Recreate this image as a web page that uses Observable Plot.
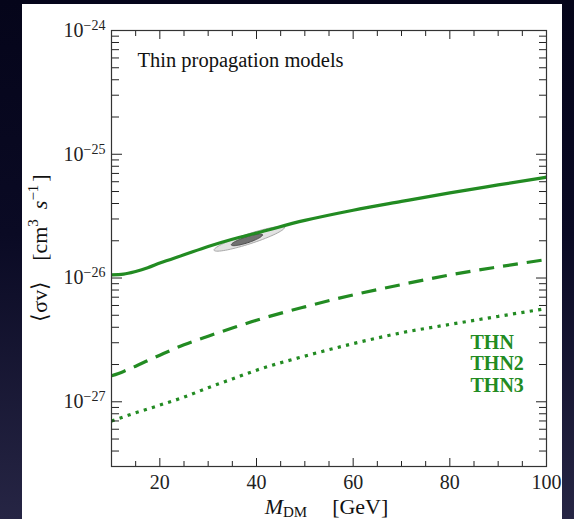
<!DOCTYPE html>
<html><head><meta charset="utf-8">
<script src="https://cdn.jsdelivr.net/npm/d3@7"></script>
<script src="https://cdn.jsdelivr.net/npm/@observablehq/plot@0.6"></script>
<style>
html,body{margin:0;padding:0;width:574px;height:519px;overflow:hidden;}
body{background:linear-gradient(to bottom,#05051a 0%,#0a0a24 45%,#262544 100%);position:relative;}
#panel{position:absolute;left:22px;top:4px;width:540px;height:515px;background:#fff;}
#chart{position:absolute;left:0;top:0;}
svg text{font-family:'Liberation Serif','Times New Roman',serif;}
</style></head><body><div id="panel"></div><div id="chart"></div>
<script>
// ---- data ----
const masses = [10,12.5,15,17.5,20,25,30,35,40,50,60,70,80,90,100];
const thn  = [1.06e-26,1.075e-26,1.13e-26,1.21e-26,1.32e-26,1.54e-26,1.80e-26,2.06e-26,2.31e-26,2.92e-26,3.53e-26,4.16e-26,4.88e-26,5.65e-26,6.53e-26];
const thn2 = [1.62e-27,1.76e-27,1.94e-27,2.15e-27,2.38e-27,2.89e-27,3.39e-27,3.94e-27,4.56e-27,5.85e-27,7.31e-27,8.85e-27,1.06e-26,1.23e-26,1.41e-26];
const thn3 = [7.0e-28,7.55e-28,8.15e-28,8.75e-28,9.4e-28,1.09e-27,1.30e-27,1.53e-27,1.80e-27,2.34e-27,2.95e-27,3.61e-27,4.22e-27,4.90e-27,5.67e-27];
const seriesNames = ["THN","THN2","THN3"];
const legendLabels = ["THN","THN2","THN3"];
const titleText = "Thin propagation models";
// best-fit region (ellipses): center mass, center log10(sigma v), major axis vector, minor axis vector
const ellipseNames = ["outer","inner"];
const ellipseCenterMass = [38.5, 38.0];
const ellipseCenterLog = [-25.683, -25.692];
const ellipseMajor = [[7.28, 0.0924],[3.2, 0.0406]];
const ellipseMinor = [[0.32, -0.0384],[0.19, -0.023]];
const xMajorTicks = [20,40,60,80,100];
const xMinorTicks = [15,25,30,35,45,50,55,65,70,75,85,90,95];
const yMajorTicks = [1e-24,1e-25,1e-26,1e-27];
const yMinorMultipliers = [2,3,4,5,6,7,8,9];
const yDomain = [3e-28, 1e-24];
const xDomain = [10, 100];

const green = "#228b22";
const tickColor = "#222";
const serif = "'Liberation Serif', 'Times New Roman', serif";

const yMinorTicks = [];
[-28,-27,-26,-25].forEach(e => yMinorMultipliers.forEach(m => {
  const v = m * Math.pow(10, e);
  if (v > yDomain[0]*0.999 && v < yDomain[1]) yMinorTicks.push(v);
}));

const rows = [];
[thn, thn2, thn3].forEach((arr, i) => arr.forEach((v, j) => rows.push({series: seriesNames[i], m: masses[j], sv: v})));

const ellipsePts = [];
ellipseNames.forEach((name, i) => {
  for (let k = 0; k <= 72; k++) {
    const t = 2*Math.PI*k/72;
    const mx = ellipseCenterMass[i] + ellipseMajor[i][0]*Math.cos(t) + ellipseMinor[i][0]*Math.sin(t);
    const ly = ellipseCenterLog[i] + ellipseMajor[i][1]*Math.cos(t) + ellipseMinor[i][1]*Math.sin(t);
    ellipsePts.push({name, m: mx, sv: Math.pow(10, ly)});
  }
});

const dashFor = {THN: null, THN2: "15,9", THN3: "3.2,5.3"};

const plot = Plot.plot({
  width: 574, height: 519,
  marginLeft: 111, marginRight: 28, marginTop: 30, marginBottom: 53,
  style: {background: "transparent", fontFamily: serif, fontSize: "20px", color: tickColor},
  x: {domain: xDomain, label: null},
  y: {type: "log", domain: yDomain, label: null},
  marks: [
    Plot.line(ellipsePts.filter(d => d.name === "outer"), {x: "m", y: "sv", fill: "#e2e2e2", stroke: "#a8a8a8", strokeWidth: 1, curve: "linear-closed"}),
    Plot.line(ellipsePts.filter(d => d.name === "inner"), {x: "m", y: "sv", fill: "#707070", stroke: "#4a4a4a", strokeWidth: 1, curve: "linear-closed"}),
    ...seriesNames.map(s => Plot.line(rows.filter(d => d.series === s), {x: "m", y: "sv", stroke: green, strokeWidth: 3.2, curve: "monotone-x", strokeDasharray: dashFor[s], strokeLinecap: "butt"})),
    // ticks (inward)
    Plot.axisX({anchor: "bottom", ticks: xMajorTicks, tickSize: -8, fill: "none", label: null}),
    Plot.axisX({anchor: "bottom", ticks: xMinorTicks, tickSize: -5, fill: "none", label: null}),
    Plot.axisX({anchor: "top", ticks: xMajorTicks, tickSize: -8, fill: "none", label: null}),
    Plot.axisX({anchor: "top", ticks: xMinorTicks, tickSize: -5, fill: "none", label: null}),
    Plot.axisY({anchor: "left", ticks: yMajorTicks, tickSize: -11, fill: "none", label: null}),
    Plot.axisY({anchor: "left", ticks: yMinorTicks, tickSize: -8, fill: "none", label: null}),
    Plot.axisY({anchor: "right", ticks: yMajorTicks, tickSize: -11, fill: "none", label: null}),
    Plot.axisY({anchor: "right", ticks: yMinorTicks, tickSize: -8, fill: "none", label: null}),
    // tick labels
    Plot.axisX({anchor: "bottom", ticks: xMajorTicks, tickSize: 0, tickPadding: 8, label: null, tickFormat: d => String(d), fontFamily: serif}),
    Plot.axisY({anchor: "left", ticks: yMajorTicks, tickSize: 0, tickPadding: 6, label: null, tickFormat: d => String(Math.round(Math.log10(d))), fontFamily: serif}),
    Plot.frame({stroke: "#333", strokeWidth: 1.2}),
    Plot.text([titleText], {frameAnchor: "top-left", dx: 26, dy: 36, lineAnchor: "bottom", textAnchor: "start", fontSize: 20.5, fontFamily: serif, fill: "#111"}),
    Plot.text([legendLabels.join("\n")], {frameAnchor: "top-left", dx: 359, dy: 303, lineAnchor: "top", textAnchor: "start", fontSize: 20, fontFamily: serif, fontWeight: "bold", fill: green, lineHeight: 1.075})
  ]
});
document.getElementById("chart").appendChild(plot);

const svg = d3.select(plot);
// superscript powers of ten on y tick labels
svg.selectAll('g[aria-label="y-axis tick label"] text').each(function() {
  const t = d3.select(this);
  const e = t.text();
  t.text(null);
  t.append("tspan").text("10");
  t.append("tspan").attr("dy", "-0.5em").attr("font-size", "14px").text(e.replace("-", "\u2212"));
});

// y-axis title
const yl = svg.append("text")
  .attr("transform", "translate(47,248) rotate(-90)")
  .attr("text-anchor", "middle")
  .attr("font-size", "22px")
  .attr("font-family", serif)
  .attr("fill", "#111");
yl.append("tspan").text("\u27E8\u03C3v\u27E9");
yl.append("tspan").attr("dx", 20).text("[cm");
yl.append("tspan").attr("dy", -9).attr("font-size", "15px").text("3");
yl.append("tspan").attr("dy", 9).attr("dx", 10).attr("font-style", "italic").text("s");
yl.append("tspan").attr("dy", -9).attr("font-size", "15px").text("\u22121");
yl.append("tspan").attr("dy", 9).attr("dx", 3).text("]");

// x-axis title
const xl = svg.append("text")
  .attr("x", 326.5).attr("y", 514)
  .attr("text-anchor", "middle")
  .attr("font-size", "22px")
  .attr("font-family", serif)
  .attr("fill", "#111");
xl.append("tspan").attr("font-style", "italic").text("M");
xl.append("tspan").attr("dy", 3).attr("font-size", "15px").text("DM");
xl.append("tspan").attr("dy", -3).attr("dx", 25).text("[GeV]");
</script>
</body></html>
